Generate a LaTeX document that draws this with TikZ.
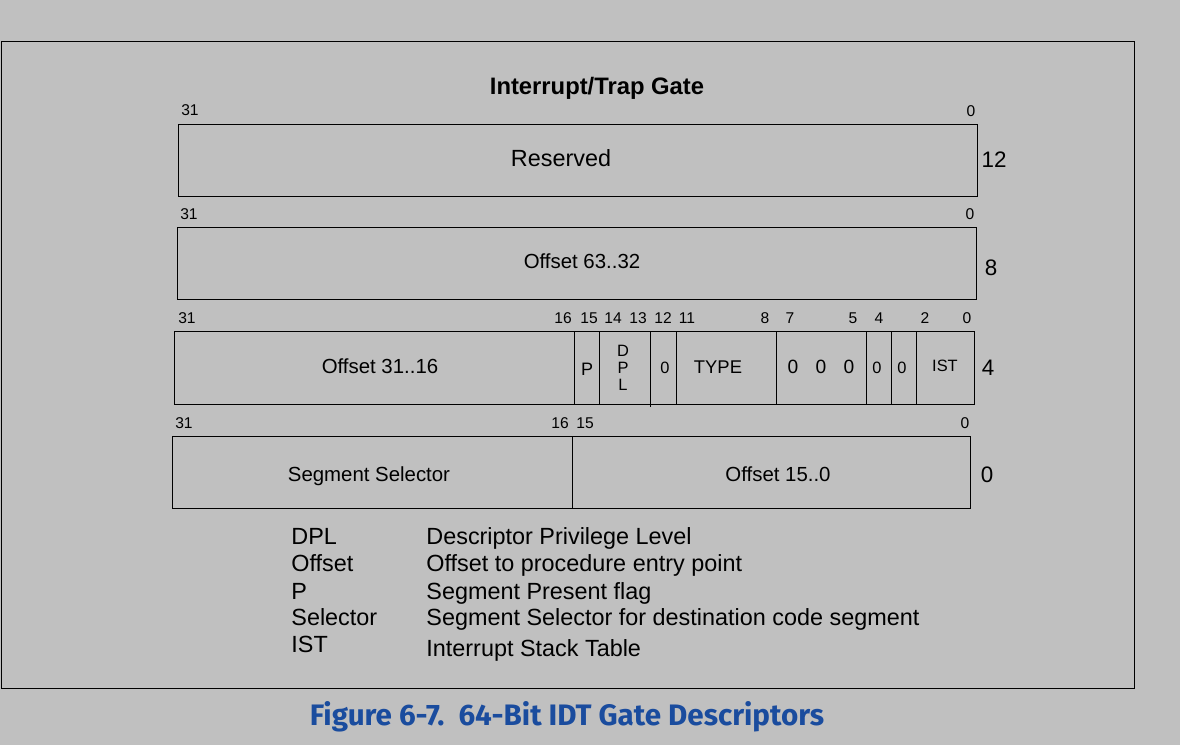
\documentclass[tikz,border=0pt]{standalone}
\usepackage{fontspec}
\setmainfont{Liberation Sans}
\newfontfamily\capfont{Fira Sans}
\usetikzlibrary{positioning}
\definecolor{bggray}{RGB}{192,192,192}
\definecolor{capblue}{RGB}{26,76,158}
\tikzset{x=.5pt,y=-.5pt,box/.style={line width=.5pt},
  cell/.style={inner sep=0pt,font=\fontsize{10.2}{12}\selectfont},
  small/.style={inner sep=0pt,font=\fontsize{8.2}{8.4}\selectfont,align=center},
  bitno/.style={inner sep=0pt,font=\fontsize{7.8}{9}\selectfont},
  rowno/.style={inner sep=0pt,font=\fontsize{11.2}{13}\selectfont},
  legend/.style={inner sep=0pt,anchor=base west,font=\fontsize{11.7}{13}\selectfont}}

\begin{document}
\begin{tikzpicture}
\fill[bggray] (0,0) rectangle (1180,745);\useasboundingbox (0,0) rectangle (1180,745);
\draw[line width=.5pt] (1,41) rectangle (1134,688);
\node[inner sep=0pt,font=\fontsize{11.9}{13}\selectfont\bfseries] (title) at (597,88) {Interrupt/Trap Gate};
% row 12
\draw[box] (178,124) rectangle (977,196);\node[cell,font=\fontsize{11.7}{13}\selectfont] (res) at (561,158) {Reserved};
\node[bitno] (r12hi) at (190,110) {31};\node[bitno] (r12lo) at (971,111) {0};\node[rowno] (n12) at (994,160) {12};
% row 8
\draw[box] (177,227) rectangle (976,299);\node[cell] (off63) at (582,261) {Offset 63..32};
\node[bitno] (r8hi) at (189,214) {31};\node[bitno] (r8lo) at (970,214) {0};\node[rowno] (n8) at (991,268) {8};
% row 4
\draw[box] (174,331) rectangle (974,404);
\foreach \x in {574,599,676,776,866,891,916} \draw[box] (\x,331)--(\x,404);
\draw[box] (650,331)--(650,407);
\node[cell] (off31) at (380,366) {Offset 31..16};
\node[small] (pbit) at (587,369) {\fontsize{9}{10}\selectfont P};\node[small] (dpl) at (623,368) {D\\P\\L};
\node[small] (z12) at (665,368) {0};\node[cell,font=\fontsize{9.2}{11}\selectfont] (type) at (718,367) {TYPE};
\foreach \x/\n in {793/a,821/b,849/c} \node[cell,font=\fontsize{9.6}{11}\selectfont] (z\n) at (\x,367) {0};
\node[small] (z4) at (877,368) {0};\node[small] (z3) at (902,368) {0};\node[small] (ist) at (945,366) {IST};
\foreach \b/\x in {31/187,16/563,15/589,14/613,13/638,12/663,11/687,8/765,7/790,5/853,4/879,2/925,0/967}
  \node[bitno] (b\b) at (\x,318) {\b};
\node[rowno] (n4) at (988,368) {4};
% row 0
\draw[box] (172,436) rectangle (970,508);\draw[box] (572,436)--(572,508);
\node[cell] (sel) at (369,476) {Segment Selector};\node[cell] (off15) at (778,474) {Offset 15..0};
\foreach \b/\x in {31/184,16/560,15/585,0/965} \node[bitno] (c\b) at (\x,423) {\b};
\node[rowno] (n0) at (987,475) {0};
% legend
\foreach \k/\y/\t/\yy in {DPL/544/Descriptor Privilege Level/544,Offset/571.5/Offset to procedure entry point/571.5,
  P/599/Segment Present flag/599,Selector/625/Segment Selector for destination code segment/625,IST/652/Interrupt Stack Table/656}{
  \node[legend] (k\k) at (291,\y) {\k};\node[legend] (d\k) at (426,\yy) {\t};}
\node[inner sep=0pt,text=capblue,font=\capfont\bfseries\fontsize{14.8}{16}\selectfont] (caption) at (567,717) {Figure 6-7.\ \ 64-Bit IDT Gate Descriptors};
\end{tikzpicture}
\end{document}
